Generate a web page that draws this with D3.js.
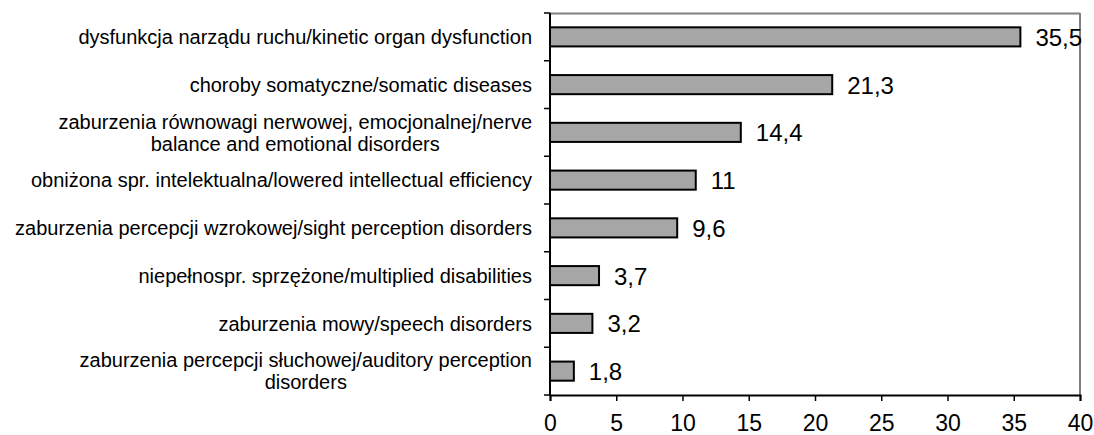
<!DOCTYPE html>
<html><head><meta charset="utf-8">
<script src="https://cdn.jsdelivr.net/npm/d3@7"></script>
<style>body{margin:0;background:#fff}svg{display:block}text{font-family:"Liberation Sans",Arial,sans-serif;fill:#000}</style>
</head><body>
<svg id="c" width="1094" height="435"></svg>
<script>
const categories = [
  ["dysfunkcja narządu ruchu/kinetic organ dysfunction"],
  ["choroby somatyczne/somatic diseases"],
  ["zaburzenia równowagi nerwowej, emocjonalnej/nerve", "balance and emotional disorders"],
  ["obniżona spr. intelektualna/lowered intellectual efficiency"],
  ["zaburzenia percepcji wzrokowej/sight perception disorders"],
  ["niepełnospr. sprzężone/multiplied disabilities"],
  ["zaburzenia mowy/speech disorders"],
  ["zaburzenia percepcji słuchowej/auditory perception", "disorders"]
];
const values = [35.5, 21.3, 14.4, 11, 9.6, 3.7, 3.2, 1.8];
const valueLabels = ["35,5", "21,3", "14,4", "11", "9,6", "3,7", "3,2", "1,8"];
const xTicks = [0, 5, 10, 15, 20, 25, 30, 35, 40];

const svg = d3.select("#c");
const L = 550, R = 1080, T = 13, B = 395;
const x = d3.scaleLinear().domain([0, 40]).range([L, R]);
const y = d3.scaleBand().domain(d3.range(categories.length)).range([T, B]).paddingInner(0.6).paddingOuter(0.3);
const yTick = d3.scaleBand().domain(d3.range(categories.length)).range([T, B]);

// frame top/right
svg.append("line").attr("x1", L).attr("x2", R).attr("y1", T+0.5).attr("y2", T+0.5).attr("stroke", "#808080").attr("stroke-width", 2);
svg.append("line").attr("x1", R).attr("x2", R).attr("y1", T).attr("y2", B).attr("stroke", "#808080").attr("stroke-width", 2);

// bars
svg.selectAll("rect.bar").data(values).enter().append("rect")
  .attr("x", x(0)).attr("y", (d, i) => y(i))
  .attr("width", d => x(d) - x(0)).attr("height", y.bandwidth())
  .attr("fill", "#a6a6a6").attr("stroke", "#000").attr("stroke-width", 2);

// value labels
svg.selectAll("text.val").data(values).enter().append("text")
  .attr("x", d => x(d) + 15).attr("y", (d, i) => y(i) + y.bandwidth() / 2)
  .attr("dy", "0.38em").attr("font-size", 24).text((d, i) => valueLabels[i]);

// x axis
const xa = svg.append("g").attr("transform", `translate(0,${B})`)
  .call(d3.axisBottom(x).tickValues(xTicks).tickSize(6).tickPadding(14).tickFormat(d3.format("d")));
xa.attr("font-size", 23).attr("font-family", "Liberation Sans, Arial, sans-serif");
xa.select(".domain").attr("stroke", "#000").attr("stroke-width", 2);
xa.selectAll(".tick line").attr("stroke", "#000").attr("stroke-width", 1.5);

// y axis line + ticks
svg.append("line").attr("x1", L).attr("x2", L).attr("y1", T).attr("y2", B + 1).attr("stroke", "#000").attr("stroke-width", 2);
svg.selectAll("line.yt").data(d3.range(categories.length + 1)).enter().append("line")
  .attr("x1", L - 6).attr("x2", L).attr("y1", i => T + i * yTick.step()).attr("y2", i => T + i * yTick.step())
  .attr("stroke", "#000").attr("stroke-width", 1.5);

// category labels
const labelRight = 532, lh = 22;
categories.forEach((lines, i) => {
  const cy = y(i) + y.bandwidth() / 2;
  const g = svg.append("g");
  const ts = lines.map((t, k) => g.append("text").attr("font-size", 20)
    .attr("y", cy + (k - (lines.length - 1) / 2) * lh).attr("dy", "0.36em").text(t));
  const w = Math.max(...ts.map(t => t.node().getComputedTextLength()));
  ts.forEach(t => t.attr("text-anchor", "middle").attr("x", labelRight - w / 2));
});
</script>
</body></html>
